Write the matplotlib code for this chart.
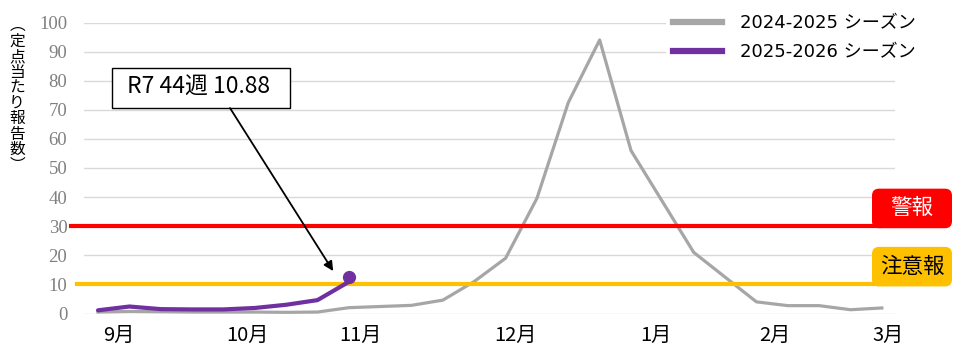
import matplotlib.pyplot as plt
from matplotlib.patches import FancyBboxPatch, Rectangle
from matplotlib.lines import Line2D
import matplotlib.transforms as mtransforms

# weekly values (index 0 = week 36)
season_prev = [0.5, 0.7, 0.6, 0.5, 0.5, 0.5, 0.4, 0.5, 2.0, 2.4, 2.8, 4.6, 11.0, 19.0,
               39.6, 72.5, 94.0, 56.0, 38.5, 21.0, 12.5, 4.0, 2.7, 2.7, 1.3, 1.9]
season_cur = [1.1, 2.4, 1.5, 1.4, 1.4, 1.9, 3.0, 4.6, 10.88]
month_pos = [0.67, 4.77, 8.36, 13.3, 17.8, 21.6, 25.2]
month_labels = ['9月', '10月', '11月', '12月', '1月', '2月', '3月']
yticks = list(range(0, 101, 10))
warn_level = 30
caution_level = 10
label_prev = '2024-2025 シーズン'
label_cur = '2025-2026 シーズン'
note_text = 'R7 44週 10.88'
ylabel_chars = '︵定点当たり報告数︶'

jp = 'Noto Sans CJK JP'

fig = plt.figure(figsize=(9.65, 3.6), dpi=100)
ax = fig.add_axes([84 / 965, 46.5 / 360, 811 / 965, 291 / 360])

x_prev = list(range(len(season_prev)))
x_cur = list(range(len(season_cur)))

ax.set_xlim(-0.447, 25.42)
ax.set_ylim(0, 100)
ax.set_yticks(yticks)
ax.grid(axis='y', color='#D9D9D9', lw=1)
ax.set_axisbelow(True)
for s in ax.spines.values():
    s.set_visible(False)
ax.tick_params(axis='y', length=0, pad=12, labelcolor='#808080', labelsize=13.5)
for t in ax.get_yticklabels():
    t.set_family('Liberation Serif')
ax.set_xticks(month_pos)
ax.set_xticklabels(month_labels, family=jp, fontsize=14.5)
ax.tick_params(axis='x', length=0, pad=8)

ax.plot(x_prev, season_prev, color='#A6A6A6', lw=2.3, zorder=2)
ax.plot([-0.86, 24.9], [warn_level, warn_level], color='#FF0000', lw=3, zorder=3, clip_on=False)
ax.plot([-0.67, 24.9], [caution_level, caution_level], color='#FFC000', lw=3, zorder=3, clip_on=False)
ax.plot(x_cur, season_cur, color='#7030A0', lw=3, zorder=4, solid_capstyle='round')
# end dot, nudged up a little like the original
dot_off = mtransforms.offset_copy(ax.transData, fig=fig, x=0, y=5, units='dots')
ax.plot(x_cur[-1], season_cur[-1], 'o', color='#7030A0', ms=8.5, transform=dot_off, zorder=4)

# level boxes
inv = fig.dpi_scale_trans.inverted()
for level, text, fc, tc in [(warn_level, '警報', '#FF0000', 'white'),
                            (caution_level, '注意報', '#FFC000', 'black')]:
    _, y0 = inv.transform(ax.transData.transform((0, level - 0.7)))
    _, y1 = inv.transform(ax.transData.transform((0, level + 12.9)))
    box = FancyBboxPatch((8.72, y0), 0.80, y1 - y0, boxstyle='round,pad=0,rounding_size=0.07',
                         fc=fc, ec='none', transform=fig.dpi_scale_trans, zorder=5)
    fig.add_artist(box)
    fig.text(9.12 / 9.65, (y0 + y1) / 2 / 3.6, text, color=tc, family=jp, fontsize=15.5,
             ha='center', va='center', zorder=6)

# callout
ax.add_patch(Rectangle((0.447, 70.6), 5.673, 13.8, fc='white', ec='black', lw=1, zorder=6))
ax.text(3.2, 77.6, note_text, family=jp, fontsize=16.5, ha='center', va='center', zorder=7)
ax.annotate('', xy=(x_cur[-1] - 0.5, season_cur[-1] + 3.7), xytext=(4.21, 70.6),
            arrowprops=dict(arrowstyle='-|>', color='black', lw=1.3, shrinkA=0, shrinkB=0,
                            mutation_scale=14), zorder=6)

# legend
handles = [Line2D([], [], color='#A6A6A6', lw=4.5), Line2D([], [], color='#7030A0', lw=4.5)]
leg = ax.legend(handles, [label_prev, label_cur], loc='upper left',
                bbox_to_anchor=(666 / 965, 1 - 7 / 360), bbox_transform=fig.transFigure,
                borderaxespad=0, frameon=True, fancybox=False, framealpha=1,
                edgecolor='none', handlelength=2.7, handletextpad=1.0, labelspacing=0.62,
                prop={'family': ['DejaVu Sans', jp], 'size': 13})
leg.set_zorder(8)

# vertical y label
for i, ch in enumerate(ylabel_chars):
    fig.text(17 / 965, 1 - (18 + 15.5 * (i + 0.5)) / 360, ch, family=jp, fontsize=11.3,
             ha='center', va='center')

fig.savefig('out.png', dpi=100)
